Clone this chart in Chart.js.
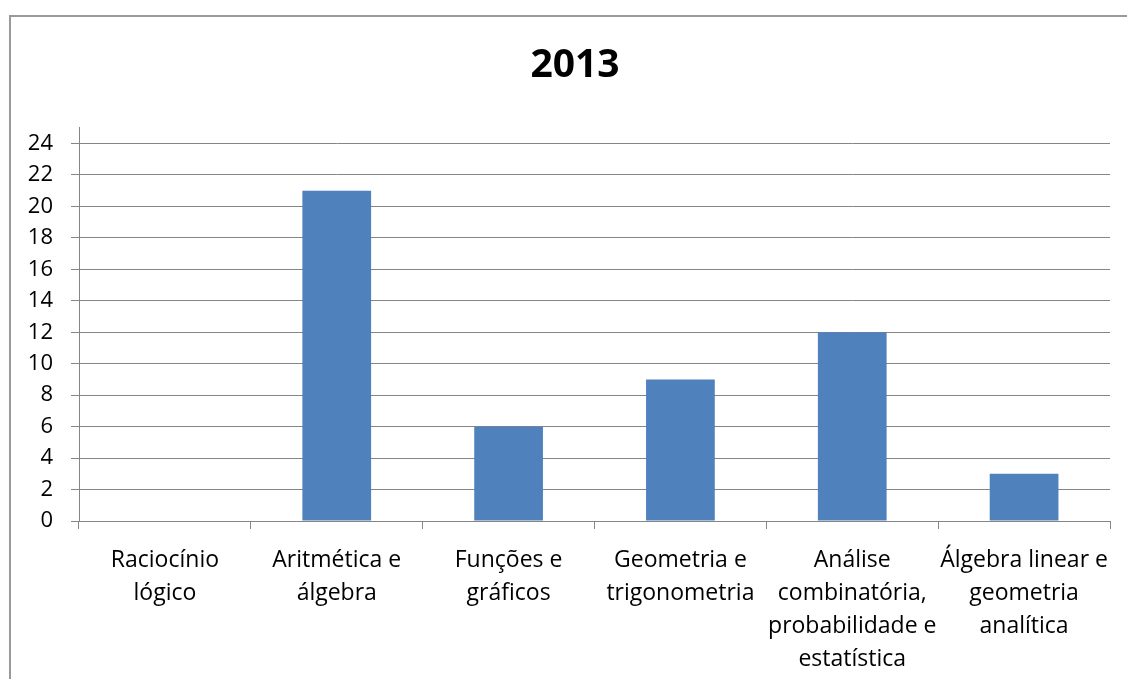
<!DOCTYPE html>
<html>
<head>
<meta charset="utf-8">
<script src="https://cdn.jsdelivr.net/npm/chart.js@4/dist/chart.umd.min.js"></script>
<style>
  html, body { margin: 0; padding: 0; background: #fff; overflow: hidden; }
  #frame {
    position: absolute; left: 9px; top: 15px; width: 1200px; height: 800px;
    border-top: 2px solid #9a9a9a; border-left: 2px solid #9a9a9a; box-sizing: border-box;
  }
  #wrap { position: absolute; left: 0; top: 0; width: 1127px; height: 679px; }
</style>
</head>
<body>
<div id="frame"></div>
<div id="wrap"><canvas id="chart" width="1127" height="679"></canvas></div>
<script>
// Topics covered in 2013 and how many questions each had
const categories = [
  ["Raciocínio", "lógico"],
  ["Aritmética e", "álgebra"],
  ["Funções e", "gráficos"],
  ["Geometria e", "trigonometria"],
  ["Análise", "combinatória,", "probabilidade e", "estatística"],
  ["Álgebra linear e", "geometria", "analítica"]
];
const values = [0, 21, 6, 9, 12, 3];
const yTicks = [0, 2, 4, 6, 8, 10, 12, 14, 16, 18, 20, 22, 24];
const titleText = "2013";

const FONT = "'Open Sans', 'Noto Sans', sans-serif";
const GRID = "#858585";

// Let the y tick labels extend left of the (narrow) y scale box without being clipped
const widenYLabels = {
  id: "widenYLabels",
  afterLayout(chart) {
    chart.scales.y.left = 0;
  }
};

new Chart(document.getElementById("chart"), {
  type: "bar",
  data: {
    labels: categories,
    datasets: [{
      data: values,
      backgroundColor: "#4F81BD",
      borderWidth: 0,
      categoryPercentage: 1.0,
      barPercentage: 0.4
    }]
  },
  plugins: [widenYLabels],
  options: {
    responsive: false,
    animation: false,
    layout: { padding: { left: 40, right: 17, top: 0, bottom: 0 } },
    plugins: {
      legend: { display: false },
      tooltip: { enabled: false },
      title: {
        display: true,
        text: titleText,
        color: "#000",
        font: { family: FONT, size: 39, weight: "bold", lineHeight: 1.2 },
        padding: { top: 42, bottom: 39 }
      }
    },
    scales: {
      x: {
        offset: true,
        afterFit: s => { s.height = 158; },
        grid: {
          offset: true,
          drawOnChartArea: false,
          drawTicks: true,
          tickLength: 8,
          color: GRID,
          lineWidth: 1
        },
        border: { color: GRID, width: 1 },
        ticks: {
          color: "#000",
          font: { family: FONT, size: 23, lineHeight: "33px" },
          maxRotation: 0,
          minRotation: 0,
          autoSkip: false,
          padding: 15
        }
      },
      y: {
        min: 0,
        max: 25,
        afterFit: s => { s.width = 39; },
        afterBuildTicks: s => { s.ticks = yTicks.map(v => ({ value: v })); },
        grid: {
          color: GRID,
          lineWidth: 1,
          drawTicks: true,
          tickLength: 8
        },
        border: { color: GRID, width: 1 },
        ticks: {
          color: "#000",
          font: { family: FONT, size: 22 },
          padding: 18
        }
      }
    }
  }
});
</script>
</body>
</html>
